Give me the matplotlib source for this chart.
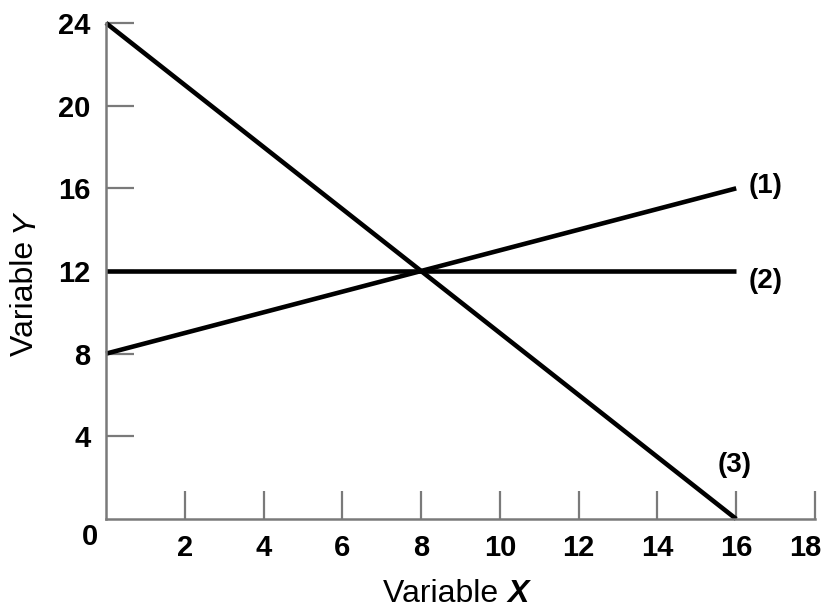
import matplotlib
matplotlib.use('Agg')
import matplotlib.pyplot as plt
import matplotlib.transforms as mtransforms

# line endpoints (x, y)
line_x = [0, 16]
line1_y = [8, 16]
line2_y = [12, 12]
line3_y = [24, 0]

labels = ['(1)', '(2)', '(3)']
label_x = [16.75, 16.75, 15.95]
label_y = [16.1, 11.5, 2.6]

xticks = [2, 4, 6, 8, 10, 12, 14, 16, 18]
yticks = [4, 8, 12, 16, 20, 24]

FONT = ['Liberation Sans Narrow', 'Liberation Sans', 'DejaVu Sans']
GRAY = '#7a7a7a'

fig = plt.figure(figsize=(8.22, 6.14), dpi=100)
ax = fig.add_axes([106 / 822, 95 / 614, 709 / 822, 496 / 614])

for ys in (line1_y, line2_y, line3_y):
    ax.plot(line_x, ys, color='black', lw=3.3, solid_capstyle='butt', clip_on=False)

for t, x, y in zip(labels, label_x, label_y):
    ax.text(x, y, t, ha='center', va='center', fontsize=20, fontweight='bold', family=FONT)

ax.set_xlim(0, 18)
ax.set_ylim(0, 24)
ax.spines['top'].set_visible(False)
ax.spines['right'].set_visible(False)
for s in ('left', 'bottom'):
    ax.spines[s].set_color(GRAY)
    ax.spines[s].set_linewidth(1.8)

ax.set_xticks(xticks)
ax.set_yticks(yticks)
ax.tick_params(direction='in', length=20, width=1.6, color=GRAY)
ax.tick_params(axis='x', pad=11)
ax.tick_params(axis='y', pad=11)
for lab in ax.get_xticklabels() + ax.get_yticklabels():
    lab.set_family(FONT)
    lab.set_fontsize(21)
    lab.set_fontweight('bold')

# last x label sits a bit left of its tick
last = ax.get_xticklabels()[-1]
last.set_transform(last.get_transform() + mtransforms.ScaledTranslation(-10 / 100, 0, fig.dpi_scale_trans))

# origin label
fig.text(90 / 822, 1 - 537 / 614, '0', ha='center', va='center', fontsize=21,
         fontweight='bold', family=FONT)

# axis titles
fig.text(507 / 822, 1 - 594 / 614, 'Variable ', ha='right', va='center', fontsize=23,
         family=['Liberation Sans', 'DejaVu Sans'])
fig.text(507 / 822, 1 - 594 / 614, 'X', ha='left', va='center', fontsize=23,
         fontweight='bold', style='italic', family=['Liberation Sans', 'DejaVu Sans'])
fig.text(25 / 822, 1 - 232 / 614, 'Variable ', ha='center', va='top', rotation=90,
         fontsize=23, family=['Liberation Sans', 'DejaVu Sans'])
fig.text(25 / 822, 1 - 232 / 614, 'Y', ha='center', va='bottom', rotation=90,
         fontsize=23, style='italic', family=['Liberation Sans', 'DejaVu Sans'])

fig.savefig('out.png', dpi=100)
